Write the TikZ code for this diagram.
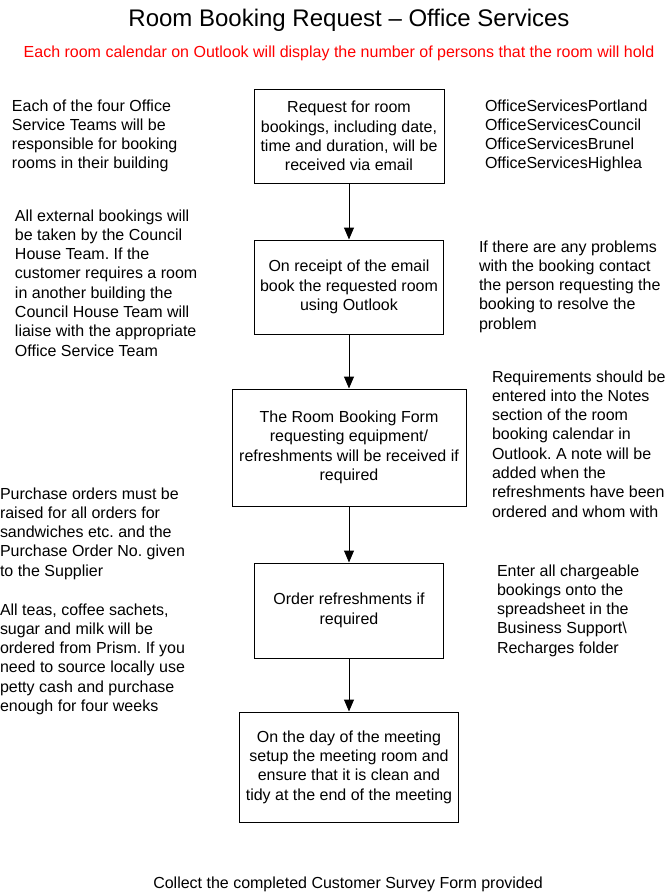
\documentclass[tikz,border=0pt]{standalone}
\usepackage{fontspec}
\setmainfont{Liberation Sans}
\usetikzlibrary{arrows.meta}
\newcommand{\bodyfont}{\fontsize{16}{19.3}\selectfont\frenchspacing}
\newcommand{\titlefont}{\fontsize{24}{28}\selectfont}
\definecolor{redtext}{RGB}{255,0,0}
\begin{document}
\begin{tikzpicture}[x=1pt,y=-1pt,
  sidetext/.style={anchor=north west,inner sep=0pt,outer sep=0pt,align=left,font=\bodyfont},
  stepbox/.style={draw=black,line width=1pt,inner sep=0pt,align=center,font=\bodyfont,fill=white},
  flow/.style={line width=1pt,-{Triangle[length=12pt,width=10pt]}}
]
\useasboundingbox[fill=white] (0,0) rectangle (671,892);
% title
\node[anchor=base,inner sep=0pt,font=\titlefont] (title) at (349,26) {Room Booking Request -- Office Services};
\node[anchor=base,inner sep=0pt,font=\bodyfont,text=redtext] (sub) at (339,57) {Each room calendar on Outlook will display the number of persons that the room will hold};
% boxes
\node[stepbox,minimum width=190pt,minimum height=94pt] (b1) at (349,136) {Request for room\\bookings, including date,\\time and duration, will be\\received via email};
\node[stepbox,minimum width=189pt,minimum height=94pt] (b2) at (349,287) {On receipt of the email\\book the requested room\\using Outlook};
\node[stepbox,minimum width=234pt,minimum height=117pt] (b3) at (349,447.5) {The Room Booking Form\\requesting equipment/\\refreshments will be received if\\required};
\node[stepbox,minimum width=189pt,minimum height=95pt] (b4) at (349,610.5) {Order refreshments if\\required};
\node[stepbox,minimum width=219pt,minimum height=110pt] (b5) at (349,767) {On the day of the meeting\\setup the meeting room and\\ensure that it is clean and\\tidy at the end of the meeting};
% arrows
\draw[flow] (b1.south) -- (b2.north);
\draw[flow] (b2.south) -- (b3.north);
\draw[flow] (b3.south) -- (b4.north);
\draw[flow] (b4.south) -- (b5.north);
% side texts left
\node[sidetext] (l1) at (12,{111-13.51}) {\strut Each of the four Office\\Service Teams will be\\responsible for booking\\rooms in their building};
\node[sidetext] (l2) at (15,{221-13.51}) {\strut All external bookings will\\be taken by the Council\\House Team. If the\\customer requires a room\\in another building the\\Council House Team will\\liaise with the appropriate\\Office Service Team};
\node[sidetext] (l3) at (0,{499-13.51}) {\strut Purchase orders must be\\raised for all orders for\\sandwiches etc. and the\\Purchase Order No. given\\to the Supplier};
\node[sidetext] (l4) at (0,{615-13.51}) {\strut All teas, coffee sachets,\\sugar and milk will be\\ordered from Prism. If you\\need to source locally use\\petty cash and purchase\\enough for four weeks};
% side texts right
\node[sidetext] (r1) at (485,{111-13.51}) {\strut OfficeServicesPortland\\OfficeServicesCouncil\\OfficeServicesBrunel\\OfficeServicesHighlea};
\node[sidetext] (r2) at (479,{252-13.51}) {\strut If there are any problems\\with the booking contact\\the person requesting the\\booking to resolve the\\problem};
\node[sidetext] (r3) at (492,{382-13.51}) {\strut Requirements should be\\entered into the Notes\\section of the room\\booking calendar in\\Outlook. A note will be\\added when the\\refreshments have been\\ordered and whom with};
\node[sidetext] (r4) at (497,{576-13.51}) {\strut Enter all chargeable\\bookings onto the\\spreadsheet in the\\Business Support\textbackslash\\Recharges folder};
% bottom
\node[anchor=base,inner sep=0pt,font=\bodyfont] (bottom) at (348,888) {Collect the completed Customer Survey Form provided};
\end{tikzpicture}
\end{document}
